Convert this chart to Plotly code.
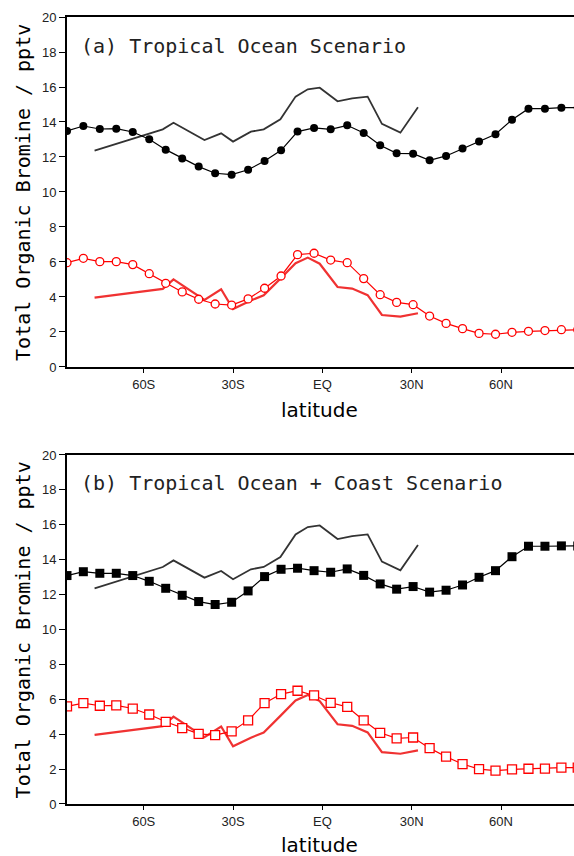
import plotly.graph_objects as go

# T21 Gaussian latitudes (model grid), south to north
model_lat = [-85.76, -80.27, -74.74, -69.21, -63.68, -58.14, -52.61, -47.07,
             -41.54, -36.01, -30.47, -24.94, -19.41, -13.87, -8.34, -2.79,
             2.79, 8.34, 13.87, 19.41, 24.94, 30.47, 36.01, 41.54,
             47.07, 52.61, 58.14, 63.68, 69.21, 74.74, 80.27, 85.76]

# Panel (a): Tropical Ocean Scenario
a_model_black = [13.49, 13.77, 13.60, 13.62, 13.43, 13.01, 12.42, 11.92,
                 11.45, 11.07, 10.99, 11.27, 11.77, 12.38, 13.45, 13.66,
                 13.58, 13.81, 13.37, 12.67, 12.21, 12.19, 11.81, 12.06,
                 12.48, 12.88, 13.30, 14.13, 14.76, 14.76, 14.82, 14.82]
a_model_red = [5.96, 6.21, 6.02, 6.02, 5.85, 5.33, 4.78, 4.29,
               3.87, 3.60, 3.54, 3.89, 4.50, 5.20, 6.42, 6.50,
               6.11, 5.96, 5.05, 4.13, 3.69, 3.56, 2.91, 2.49,
               2.19, 1.92, 1.87, 1.98, 2.04, 2.08, 2.13, 2.13]

# Panel (b): Tropical Ocean + Coast Scenario
b_model_black = [13.09, 13.31, 13.22, 13.22, 13.09, 12.76, 12.36, 11.96,
                 11.60, 11.43, 11.56, 12.21, 13.03, 13.45, 13.51, 13.37,
                 13.28, 13.47, 13.10, 12.61, 12.31, 12.46, 12.14, 12.25,
                 12.55, 12.99, 13.37, 14.17, 14.77, 14.77, 14.79, 14.79]
b_model_red = [5.59, 5.78, 5.63, 5.65, 5.47, 5.13, 4.71, 4.35,
               4.02, 3.95, 4.16, 4.79, 5.78, 6.30, 6.49, 6.22,
               5.80, 5.57, 4.79, 4.08, 3.76, 3.81, 3.20, 2.71,
               2.29, 2.00, 1.91, 1.98, 2.02, 2.03, 2.08, 2.08]

# Observations (same in both panels)
obs_lat = [-76.5, -53.6, -50.0, -39.6, -34.0, -30.0, -24.0, -19.7, -14.1,
           -9.0, -4.9, -0.9, 5.1, 10.0, 15.2, 20.0, 26.2, 32.1]
obs_black = [12.36, 13.58, 13.96, 12.97, 13.35, 12.88, 13.45, 13.58, 14.15,
             15.45, 15.87, 15.96, 15.18, 15.35, 15.45, 13.89, 13.39, 14.84]
obs_red = [3.96, 4.46, 5.01, 3.83, 4.44, 3.31, 3.80, 4.10, 5.05,
           5.93, 6.25, 5.90, 4.57, 4.48, 4.10, 2.97, 2.88, 3.07]

x_tickvals = [-60, -30, 0, 30, 60]
x_ticktext = ["60S", "30S", "EQ", "30N", "60N"]
y_tickvals = [0, 2, 4, 6, 8, 10, 12, 14, 16, 18, 20]

panel_titles = ["(a) Tropical Ocean Scenario", "(b) Tropical Ocean + Coast Scenario"]
y_title = "Total Organic Bromine / pptv"
x_title = "latitude"

RED = "rgb(255,0,0)"
OBS_RED = "rgb(240,50,50)"

fig = go.Figure()

def add_panel(xa, ya, black, red, sym_fill, sym_open, msize):
    fig.add_trace(go.Scatter(x=obs_lat, y=obs_black, mode="lines",
                             line=dict(color="#333333", width=1.8),
                             xaxis=xa, yaxis=ya, showlegend=False))
    fig.add_trace(go.Scatter(x=obs_lat, y=obs_red, mode="lines",
                             line=dict(color=OBS_RED, width=2.2),
                             xaxis=xa, yaxis=ya, showlegend=False))
    fig.add_trace(go.Scatter(x=model_lat, y=black, mode="lines+markers",
                             line=dict(color="black", width=1.2),
                             marker=dict(symbol=sym_fill, size=msize, color="black"),
                             xaxis=xa, yaxis=ya, showlegend=False))
    fig.add_trace(go.Scatter(x=model_lat, y=red, mode="lines+markers",
                             line=dict(color=RED, width=1.2),
                             marker=dict(symbol=sym_open, size=msize, color="white",
                                         line=dict(color=RED, width=1.3)),
                             xaxis=xa, yaxis=ya, showlegend=False))

add_panel("x", "y", a_model_black, a_model_red, "circle", "circle", 8)
add_panel("x2", "y2", b_model_black, b_model_red, "square", "square", 9)

tickfont = dict(family="Liberation Sans, Arial, sans-serif", size=13, color="#222222")
xcommon = dict(range=[-85.76, 84.5], tickvals=x_tickvals, ticktext=x_ticktext,
               showline=True, linewidth=2, linecolor="black", mirror=True,
               ticks="outside", ticklen=4, tickwidth=1, tickcolor="black",
               showgrid=False, zeroline=False, tickfont=tickfont)
ycommon = dict(range=[0, 20], tickvals=y_tickvals,
               showline=True, linewidth=2, linecolor="black",
               ticks="outside", ticklen=6, tickwidth=1, tickcolor="black",
               showgrid=False, zeroline=False, tickfont=tickfont)

fig.update_layout(
    width=574, height=856,
    margin=dict(l=67, r=0, t=17, b=52),
    plot_bgcolor="white", paper_bgcolor="white",
    xaxis=dict(anchor="y", domain=[0, 1], **xcommon),
    yaxis=dict(anchor="x", domain=[0.5553, 1.0], **ycommon),
    xaxis2=dict(anchor="y2", domain=[0, 1], **xcommon),
    yaxis2=dict(anchor="x2", domain=[0.0, 0.4435], **ycommon),
)

title_font = dict(family="DejaVu Sans Mono, monospace", size=20, color="#222222")
y_title_font = dict(family="DejaVu Sans Mono, monospace", size=20, color="black")
x_title_font = dict(family="DejaVu Sans, sans-serif", size=20, color="black")

annotations = [
    dict(text=panel_titles[0], xref="paper", yref="paper", x=0.024, y=0.963,
         xanchor="left", yanchor="middle", showarrow=False, font=title_font),
    dict(text=panel_titles[1], xref="paper", yref="paper", x=0.024, y=0.408,
         xanchor="left", yanchor="middle", showarrow=False, font=title_font),
    dict(text=y_title, xref="paper", yref="paper", x=-0.087, y=0.7776,
         xanchor="center", yanchor="middle", textangle=-90, showarrow=False,
         font=y_title_font),
    dict(text=y_title, xref="paper", yref="paper", x=-0.087, y=0.2217,
         xanchor="center", yanchor="middle", textangle=-90, showarrow=False,
         font=y_title_font),
    dict(text=x_title, xref="paper", yref="paper", x=0.499, y=0.5006,
         xanchor="center", yanchor="middle", showarrow=False, font=x_title_font),
    dict(text=x_title, xref="paper", yref="paper", x=0.499, y=-0.0525,
         xanchor="center", yanchor="middle", showarrow=False, font=x_title_font),
]
fig.update_layout(annotations=annotations)

fig.write_html("out.html")
